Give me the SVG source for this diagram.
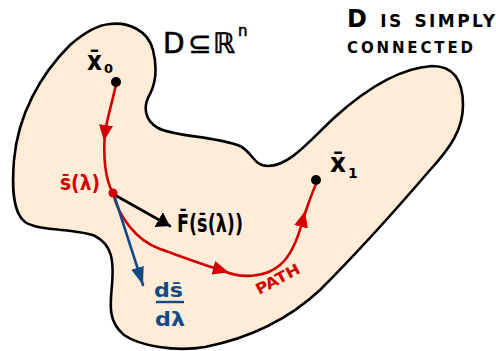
<svg xmlns="http://www.w3.org/2000/svg" width="496" height="351" viewBox="0 0 496 351">
<style>
  text { font-family: "DejaVu Sans", "Liberation Sans", sans-serif; font-weight: bold; }
  text.thin { font-weight: normal; }
  .blk { fill: #000; }
  .red { fill: #d40000; }
  .blue { fill: #124a86; }
  .path { fill: none; stroke: #d40000; stroke-width: 2.6; stroke-linecap: round; }
  .vec { fill: none; stroke-width: 2.6; stroke-linecap: round; }
</style>
<defs>
  <marker id="redArrow" markerUnits="userSpaceOnUse" markerWidth="18" markerHeight="16" refX="8" refY="7" orient="auto">
    <path d="M0,0 L16,7 L0,14 Z" fill="#d40000"/>
  </marker>
  <marker id="blackArrow" markerUnits="userSpaceOnUse" markerWidth="16" markerHeight="19" refX="13" refY="8.5" orient="auto">
    <path d="M0,0 L13,8.5 L0,17 Z" fill="#000"/>
  </marker>
  <marker id="blueArrow" markerUnits="userSpaceOnUse" markerWidth="20" markerHeight="14" refX="18" refY="6.5" orient="auto">
    <path d="M0,0 L18,6.5 L0,13 Z" fill="#124a86"/>
  </marker>
</defs>
<rect width="496" height="351" fill="#fff"/>

<g id="region-D">
  <path d="M110,24 C128,22 148,30 153,50 C157,66 156,82 150,94 C143,106 144,120 158,128 C175,137 215,136 240,146 C252,152 254,166 268,166 C290,166 310,140 335,117 C365,90 400,68 432,66 C455,66 463,82 463,105 C463,130 450,148 430,170 C400,205 360,250 320,290 C290,318 250,338 205,347 C175,352 140,346 124,335 C108,322 110,305 112,285 C114,260 112,245 95,236 C75,228 40,232 25,222 C12,212 12,185 14,160 C18,115 40,75 70,45 C85,32 97,25 110,24 Z" fill="#fdecd8" stroke="#000" stroke-width="2.6" stroke-linejoin="round"/>
</g>

<g id="label-D">
  <text font-size="28" class="thin blk" stroke="#000" stroke-width="0.6"><tspan x="163" y="53">D</tspan><tspan x="188" y="53">⊆</tspan><tspan x="213" y="53">ℝ</tspan><tspan x="238" y="36" font-size="15">n</tspan></text>
</g>

<g id="label-simply">
  <text x="347" y="27" font-size="24" font-variant="small-caps" textLength="148" lengthAdjust="spacing" class="blk">D is simply</text>
  <text x="347" y="53" font-size="22" font-variant="small-caps" textLength="126" lengthAdjust="spacing" class="blk">connected</text>
</g>

<g id="connectors">
  <path class="path" d="M116,84 C113,100 107,118 105,133" marker-end="url(#redArrow)"/>
  <path class="path" d="M105,133 C103,155 105,180 113,193"/>
  <path class="path" d="M113,193 C118,215 135,240 160,249 C185,258 203,265 221,270" marker-end="url(#redArrow)"/>
  <path class="path" d="M221,270 C240,279 265,278 280,265 C293,254 299,235 303,219" marker-end="url(#redArrow)"/>
  <path class="path" d="M303,219 C308,205 312,192 317,182"/>
  <path class="vec" stroke="#000" d="M113,194 L170,226" marker-end="url(#blackArrow)"/>
  <path class="vec" stroke="#124a86" d="M114,195 L143,285" marker-end="url(#blueArrow)"/>
</g>

<g id="node-x0">
  <circle cx="116" cy="82" r="5" class="blk"/>
  <text x="87" y="70" font-size="26" textLength="15" lengthAdjust="spacingAndGlyphs" class="blk">x̄</text>
  <text x="104" y="73" font-size="13" class="blk">0</text>
</g>

<g id="node-x1">
  <circle cx="316" cy="180" r="5" class="blk"/>
  <text x="330" y="172" font-size="26" textLength="16" lengthAdjust="spacingAndGlyphs" class="blk">x̄</text>
  <text x="348" y="178" font-size="14" class="blk">1</text>
</g>

<g id="node-s">
  <circle cx="113" cy="193" r="4.5" class="red"/>
  <text x="60" y="190" font-size="22" textLength="40" lengthAdjust="spacingAndGlyphs" class="red">s̄(λ)</text>
</g>

<g id="label-F">
  <text x="177" y="232" font-size="24" textLength="66" lengthAdjust="spacingAndGlyphs" class="blk">F̄(s̄(λ))</text>
</g>

<g id="label-ds">
  <text x="154" y="297" font-size="19" textLength="29" lengthAdjust="spacingAndGlyphs" class="blue">ds̄</text>
  <line x1="156" y1="302" x2="184" y2="302" stroke="#124a86" stroke-width="2.4"/>
  <text x="155" y="326" font-size="19" textLength="30" lengthAdjust="spacingAndGlyphs" class="blue">dλ</text>
</g>

<g id="label-path">
  <text x="0" y="0" font-size="15" class="red" textLength="48" lengthAdjust="spacingAndGlyphs" transform="translate(259,295) rotate(-28)">PATH</text>
</g>
</svg>
